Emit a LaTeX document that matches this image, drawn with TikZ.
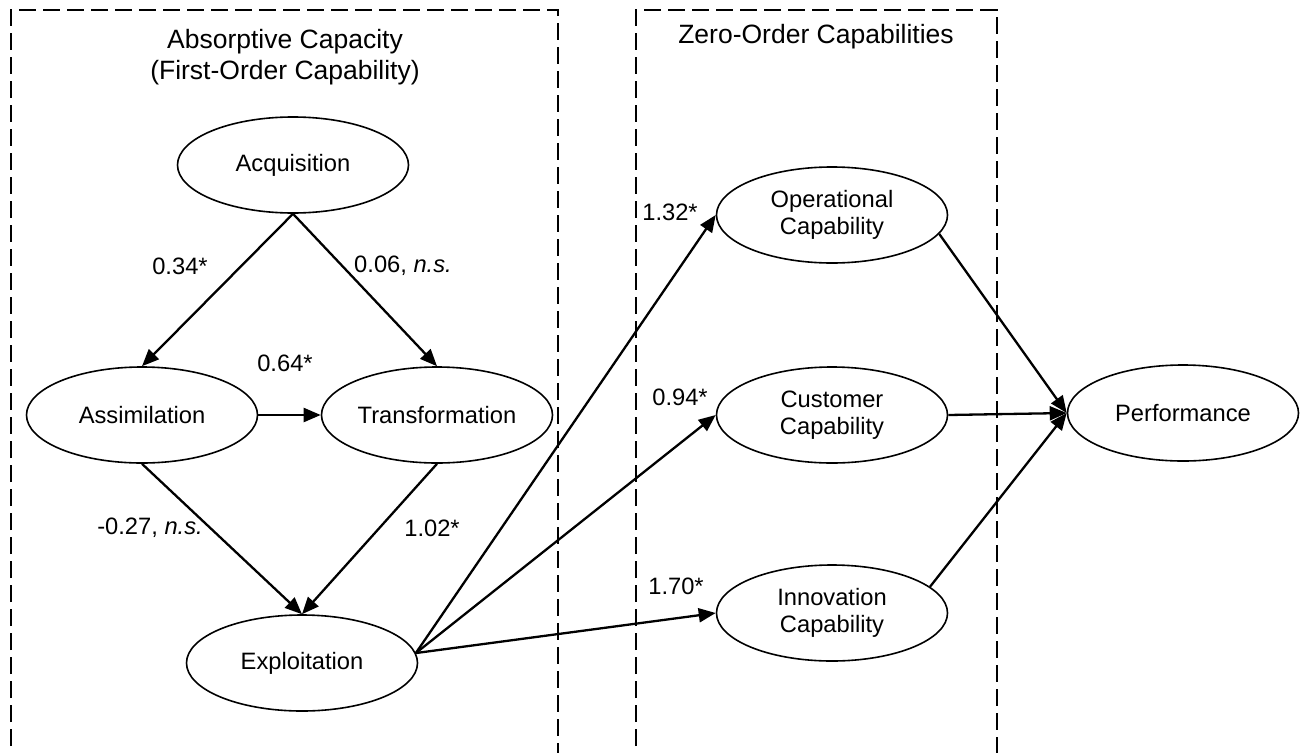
\documentclass[tikz,border=0pt]{standalone}
\usepackage{fontspec}
\setmainfont{Liberation Sans}
\usetikzlibrary{arrows.meta,shapes.geometric}
\begin{document}
\begin{tikzpicture}[x=0.5bp,y=-0.5bp,
  ell/.style={ellipse,draw,line width=0.8bp,minimum width=115.5bp,minimum height=48bp,inner sep=0pt,align=center,font=\fontsize{11.9}{13.5}\selectfont},
  arr/.style={line width=1.15bp,-{Triangle[length=8.5bp,width=7bp]}},
  lbl/.style={font=\fontsize{11.9}{13.5}\selectfont,inner sep=0pt},
  ttl/.style={font=\fontsize{13.3}{15.5}\selectfont,align=center,inner sep=0pt},
  grp/.style={line width=1.25bp,dash pattern=on 8.5bp off 3.5bp}]
\clip (0,0) rectangle (1306,752);
% group boxes
\draw[grp] (11,770) -- (11,10) -- (558,10) -- (558,770);
\draw[grp] (636,770) -- (636,10) -- (997,10) -- (997,770);
\node[ttl] (t1) at (285,57) {Absorptive Capacity\\(First-Order Capability)};
\node[ttl] (t2) at (816,37) {Zero-Order Capabilities};
% nodes
\node[ell] (acq) at (293,165) {Acquisition};
\node[ell] (asm) at (142,415) {Assimilation};
\node[ell] (trf) at (437,415) {Transformation};
\node[ell] (exp) at (302,663) {Exploitation};
\node[ell] (opc) at (832,215) {Operational\\Capability};
\node[ell] (cuc) at (832,415) {Customer\\Capability};
\node[ell] (inc) at (832,613) {Innovation\\Capability};
\node[ell] (prf) at (1183,413) {Performance};
% connectors
\draw[arr] (acq.south) -- (asm.north);
\draw[arr] (acq.south) -- (trf.north);
\draw[arr] (asm.east) -- (trf.west);
\draw[arr] (asm.south) -- (exp.north);
\draw[arr] (trf.south) -- (exp.north);
\draw[arr] (exp.5) -- (opc.west);
\draw[arr] (exp.5) -- (cuc.west);
\draw[arr] (exp.5) -- (inc.west);
\draw[arr] (opc.-10) -- (prf.west);
\draw[arr] (cuc.east) -- (prf.west);
\draw[arr] (inc.15) -- (prf.west);
% labels
\node[lbl] (l1) at (180,266) {0.34*};
\node[lbl] (l2) at (403,266) {0.06, \textit{n.s.}};
\node[lbl] (l3) at (285,363) {0.64*};
\node[lbl] (l4) at (150,528) {-0.27, \textit{n.s.}};
\node[lbl] (l5) at (432,528) {1.02*};
\node[lbl] (l6) at (670,212) {1.32*};
\node[lbl] (l7) at (680,397) {0.94*};
\node[lbl] (l8) at (676,586) {1.70*};
\end{tikzpicture}
\end{document}
